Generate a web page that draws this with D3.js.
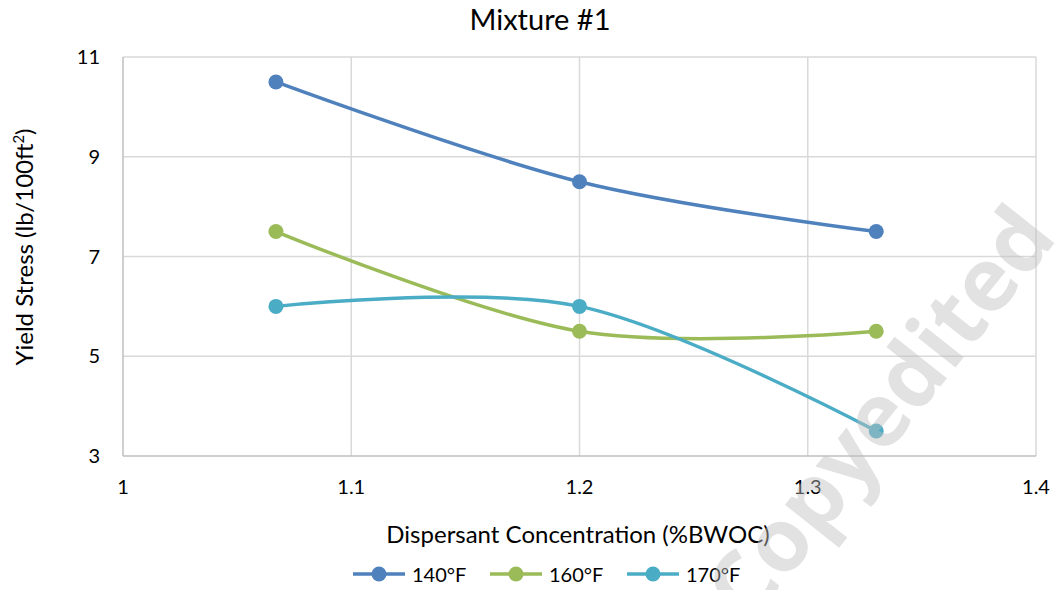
<!DOCTYPE html>
<html>
<head>
<meta charset="utf-8">
<script src="https://cdn.jsdelivr.net/npm/d3@7"></script>
<style>
	body { margin: 0; background: #fff; }
	svg { display: block; font-family: Lato, "Open Sans", sans-serif; }
</style>
</head>
<body>
<svg width="1057" height="590"></svg>
<script>
// data
const concentrations = [ 1.067, 1.2, 1.33 ];
const series_names = [ "140°F", "160°F", "170°F" ];
const yield_140 = [ 10.5, 8.5, 7.5 ];
const yield_160 = [ 7.5, 5.5, 5.5 ];
const yield_170 = [ 6, 6, 3.5 ];
const x_ticks = [ 1, 1.1, 1.2, 1.3, 1.4 ];
const y_ticks = [ 3, 5, 7, 9, 11 ];
const colors = [ "#4F81BD", "#9BBB59", "#4BACC6" ];

const series = [ yield_140, yield_160, yield_170 ].map( ( vals, i ) => {
	return {
		id: series_names[i],
		color: colors[i],
		values: concentrations.map( ( c, j ) => { return { x: c, y: vals[j] }; })
	};
});

let  svg = d3.select( "svg" )
	,plot = { left: 123, top: 57, right: 1036, bottom: 456 };

let  x = d3.scaleLinear().domain( [ 1, 1.4 ] ).range( [ plot.left, plot.right ] )
	,y = d3.scaleLinear().domain( [ 3, 11 ] ).range( [ plot.bottom, plot.top ] );

// gridlines
svg.append( "g" ).selectAll( "line" )
	.data( y_ticks.slice( 1 ) )
	.enter().append( "line" )
	.attr( "x1", plot.left ).attr( "x2", plot.right )
	.attr( "y1", d => y( d ) ).attr( "y2", d => y( d ) )
	.style( "stroke", "#d9d9d9" ).style( "stroke-width", 1.5 );

svg.append( "g" ).selectAll( "line" )
	.data( x_ticks.slice( 1 ) )
	.enter().append( "line" )
	.attr( "x1", d => x( d ) ).attr( "x2", d => x( d ) )
	.attr( "y1", plot.top ).attr( "y2", plot.bottom )
	.style( "stroke", "#d9d9d9" ).style( "stroke-width", 1.5 );

// axis lines
svg.append( "line" )
	.attr( "x1", plot.left ).attr( "x2", plot.left )
	.attr( "y1", plot.top ).attr( "y2", plot.bottom )
	.style( "stroke", "#bfbfbf" ).style( "stroke-width", 1.5 );
svg.append( "line" )
	.attr( "x1", plot.left ).attr( "x2", plot.right )
	.attr( "y1", plot.bottom ).attr( "y2", plot.bottom )
	.style( "stroke", "#bfbfbf" ).style( "stroke-width", 1.5 );

// tick labels
svg.append( "g" ).selectAll( "text" )
	.data( y_ticks )
	.enter().append( "text" )
	.attr( "x", 100 )
	.attr( "y", d => y( d ) + 7 )
	.attr( "text-anchor", "end" )
	.style( "font-size", "20px" ).style( "fill", "#000" )
	.text( d => d );

svg.append( "g" ).selectAll( "text" )
	.data( x_ticks )
	.enter().append( "text" )
	.attr( "x", d => x( d ) )
	.attr( "y", 494 )
	.attr( "text-anchor", "middle" )
	.style( "font-size", "20px" ).style( "fill", "#000" )
	.text( d => d3.format( "" )( d ) );

// titles
svg.append( "text" )
	.attr( "x", 540 ).attr( "y", 30 )
	.attr( "text-anchor", "middle" )
	.style( "font-size", "29px" )
	.text( "Mixture #1" );

svg.append( "text" )
	.attr( "x", 578 ).attr( "y", 543 )
	.attr( "text-anchor", "middle" )
	.style( "font-size", "24px" )
	.text( "Dispersant Concentration (%BWOC)" );

let ytitle = svg.append( "text" )
	.attr( "transform", "translate(33,247) rotate(-90)" )
	.attr( "text-anchor", "middle" )
	.style( "font-size", "24px" );
ytitle.append( "tspan" ).text( "Yield Stress (lb/100ft" );
ytitle.append( "tspan" ).attr( "dy", -9 ).style( "font-size", "15px" ).text( "2" );
ytitle.append( "tspan" ).attr( "dy", 9 ).text( ")" );

// series
let line = d3.line()
	.curve( d3.curveCardinal )
	.x( d => x( d.x ) )
	.y( d => y( d.y ) );

let content = svg.append( "g" ).selectAll( ".d-content" )
	.data( series )
	.enter().append( "g" )
	.attr( "class", "d-content" );

content.append( "path" )
	.attr( "d", d => line( d.values ) )
	.style( "fill", "none" )
	.style( "stroke", d => d.color )
	.style( "stroke-width", 3.5 )
	.style( "stroke-linecap", "round" );

content.selectAll( ".dot" )
	.data( d => d.values.map( v => Object.assign( { color: d.color }, v ) ) )
	.enter().append( "circle" )
	.attr( "class", "dot" )
	.attr( "r", 7.5 )
	.attr( "cx", d => x( d.x ) )
	.attr( "cy", d => y( d.y ) )
	.style( "fill", d => d.color );

// legend
let legend = svg.append( "g" ).selectAll( "g" )
	.data( series )
	.enter().append( "g" )
	.attr( "transform", ( d, i ) => "translate(" + ( 353 + i * 137 ) + ",574)" );

legend.append( "line" )
	.attr( "x1", 0 ).attr( "x2", 52 )
	.style( "stroke", d => d.color ).style( "stroke-width", 3.5 );
legend.append( "circle" )
	.attr( "cx", 26 ).attr( "r", 7.5 )
	.style( "fill", d => d.color );
legend.append( "text" )
	.attr( "x", 59 ).attr( "y", 8 )
	.style( "font-size", "20px" )
	.text( d => d.id );

// watermark
svg.append( "text" )
	.attr( "transform", "translate(880,413) rotate(-51.5)" )
	.attr( "text-anchor", "middle" )
	.attr( "dy", "0.35em" )
	.style( "font-family", "'Open Sans', sans-serif" )
	.style( "font-weight", "bold" )
	.style( "font-size", "88px" )
	.style( "fill", "#bfbfbf" )
	.style( "opacity", 0.45 )
	.text( "Copyedited" );
</script>
</body>
</html>
